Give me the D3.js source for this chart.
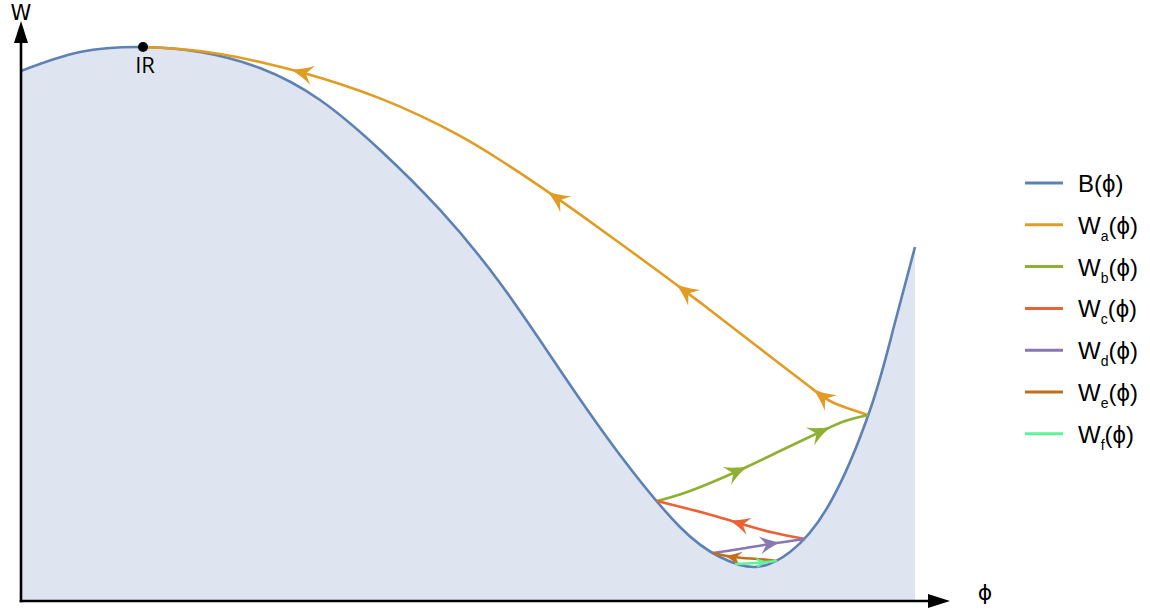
<!DOCTYPE html>
<html><head><meta charset="utf-8">
<script src="https://cdn.jsdelivr.net/npm/d3@7"></script>
<style>body{margin:0;background:#fff}svg{display:block}</style>
</head><body><svg id="c" width="1150" height="614"></svg>
<script>
// ---- data (phi, W in arbitrary units) ----
const bPhi = [0, 6.60, 13.65, 20.02, 26.73, 33.45, 40.16, 46.87, 53.58, 60.29, 67.00, 73.71, 78.19, 82.10, 86.02, 90.49, 94.97, 97.54, 100];
const bW   = [95.67, 99.10, 100.0, 99.10, 96.21, 90.43, 81.41, 70.58, 57.40, 41.70, 26.35, 13.36, 7.94, 6.14, 8.84, 17.69, 34.48, 48.92, 63.90];

const aPhi = [94.74, 92.73, 90.49, 88.26, 84.90, 80.43, 75.95, 71.48, 67.00, 62.53, 58.05, 53.58, 49.11, 44.63, 40.16, 35.68, 31.21, 26.73, 22.26, 17.79, 13.65];
const aW   = [33.57, 34.66, 36.10, 38.63, 42.78, 48.34, 53.90, 59.31, 64.58, 69.78, 74.84, 79.60, 83.94, 87.62, 90.72, 93.32, 95.49, 97.29, 98.74, 99.64, 100];
const bbPhi = [71.14, 74.83, 80.43, 84.90, 89.37, 92.17, 94.74];
const bbW   = [18.05, 19.86, 23.65, 27.08, 30.51, 32.49, 33.57];
const cPhi = [87.70, 84.34, 80.98, 77.63, 74.27, 71.14];
const cW   = [11.19, 12.27, 13.72, 15.34, 16.79, 18.05];
const dPhi = [77.40, 80.43, 83.78, 87.70];
const dW   = [8.66, 9.39, 10.29, 11.19];
const ePhi = [84.56, 82.33, 79.64, 77.40];
const eW   = [7.22, 7.58, 7.94, 8.66];
const fPhi = [79.87, 82.10, 84.56];
const fW   = [6.68, 6.86, 7.22];

// arrow tip positions (phi) on each trajectory
const arrowsA = [30.3, 58.9, 73.3, 88.6];
const arrowsB = [81.2, 90.5];
const arrowsC = [79.3];
const arrowsD = [84.9];
const arrowsE = [78.7];
const arrowsF = [83.6];

const irPoint = [13.65, 100];
const legendNames = ["B", "W", "W", "W", "W", "W", "W"];
const legendSubs  = ["", "a", "b", "c", "d", "e", "f"];
const colors = ["#5E81B5", "#E19C24", "#8FB032", "#EB6235", "#8778B3", "#C56E1A", "#5CF59A"];

// ---- scales ----
const x = d3.scaleLinear().domain([0, 100]).range([21, 915]);
const y = d3.scaleLinear().domain([0, 100]).range([601, 47]);

const svg = d3.select("#c");
const zip = (a, b) => a.map((v, i) => [v, b[i]]);
const curve = d3.curveNatural;
const line = d3.line().x(d => x(d[0])).y(d => y(d[1])).curve(curve);
const area = d3.area().x(d => x(d[0])).y0(y(0)).y1(d => y(d[1])).curve(curve);

const bData = zip(bPhi, bW);
svg.append("path").attr("d", area(bData)).attr("fill", "#DFE5F0");
svg.append("path").attr("d", line(bData)).attr("fill", "none").attr("stroke", colors[0]).attr("stroke-width", 2.6);

const trajs = [
  [aPhi, aW, arrowsA, colors[1], 22],
  [bbPhi, bbW, arrowsB, colors[2], 22],
  [cPhi, cW, arrowsC, colors[3], 20],
  [dPhi, dW, arrowsD, colors[4], 20],
  [ePhi, eW, arrowsE, colors[5], 17],
  [fPhi, fW, arrowsF, colors[6], 13],
];

function arrowPath(s) {
  const h = s * 0.45;
  return `M0,0 C${-0.3*s},${-0.1*s} ${-0.7*s},${-0.25*s} ${-s},${-h} L${-0.68*s},0 L${-s},${h} C${-0.7*s},${0.25*s} ${-0.3*s},${0.1*s} 0,0 Z`;
}

trajs.forEach(([px, pw, arr, col, size]) => {
  const p = svg.append("path").attr("d", line(zip(px, pw))).attr("fill", "none")
    .attr("stroke", col).attr("stroke-width", 2.6).attr("stroke-linecap", "butt");
  const node = p.node();
  const L = node.getTotalLength();
  arr.forEach(ax => {
    const tx = x(ax);
    let best = 0, bd = 1e9;
    for (let i = 0; i <= 600; i++) {
      const l = L * i / 600;
      const pt = node.getPointAtLength(l);
      const d = Math.abs(pt.x - tx);
      if (d < bd) { bd = d; best = l; }
    }
    const pt = node.getPointAtLength(best);
    const p0 = node.getPointAtLength(Math.max(0, best - 2));
    const p1 = node.getPointAtLength(Math.min(L, best + 2));
    const ang = Math.atan2(p1.y - p0.y, p1.x - p0.x) * 180 / Math.PI;
    svg.append("path").attr("d", arrowPath(size)).attr("fill", col)
      .attr("transform", `translate(${pt.x},${pt.y}) rotate(${ang})`);
  });
});

// ---- axes ----
const ax = svg.append("g");
ax.append("line").attr("x1", x(0)).attr("x2", x(0)).attr("y1", y(0) + 1.3).attr("y2", 40)
  .attr("stroke", "#000").attr("stroke-width", 2.6);
ax.append("path").attr("d", `M${x(0)},21 L${x(0) - 7},43 L${x(0) + 7},43 Z`).attr("fill", "#000");
ax.append("line").attr("x1", x(0) - 1.3).attr("x2", 932).attr("y1", y(0)).attr("y2", y(0))
  .attr("stroke", "#000").attr("stroke-width", 2.6);
ax.append("path").attr("d", `M950,${y(0)} L928,${y(0) - 7} L928,${y(0) + 7} Z`).attr("fill", "#000");

svg.append("text").attr("x", 21).attr("y", 20).attr("text-anchor", "middle")
  .attr("font-family", "DejaVu Sans, sans-serif").attr("font-size", 21).text("W");
svg.append("text").attr("x", 985).attr("y", 600).attr("text-anchor", "middle")
  .attr("font-family", "DejaVu Sans, sans-serif").attr("font-size", 22).text("ϕ");

// IR point
svg.append("circle").attr("cx", x(irPoint[0])).attr("cy", y(irPoint[1])).attr("r", 5).attr("fill", "#000");
svg.append("text").attr("x", x(irPoint[0]) + 2).attr("y", 73).attr("text-anchor", "middle")
  .attr("font-family", "Open Sans, sans-serif").attr("font-size", 22).text("IR");

// ---- legend ----
const lg = svg.append("g").attr("font-family", "Liberation Sans, Arial, sans-serif");
legendNames.forEach((nm, i) => {
  const ly = 183 + i * 41.8;
  lg.append("line").attr("x1", 1025).attr("x2", 1063).attr("y1", ly).attr("y2", ly)
    .attr("stroke", colors[i]).attr("stroke-width", 3);
  const t = lg.append("text").attr("x", 1078).attr("y", ly + 9).attr("font-size", 24);
  t.append("tspan").text(nm);
  if (legendSubs[i]) {
    t.append("tspan").attr("font-size", 14).attr("dy", 7).text(legendSubs[i]);
    t.append("tspan").attr("dy", -7).text("(ϕ)");
  } else {
    t.append("tspan").text("(ϕ)");
  }
});
</script></body></html>
